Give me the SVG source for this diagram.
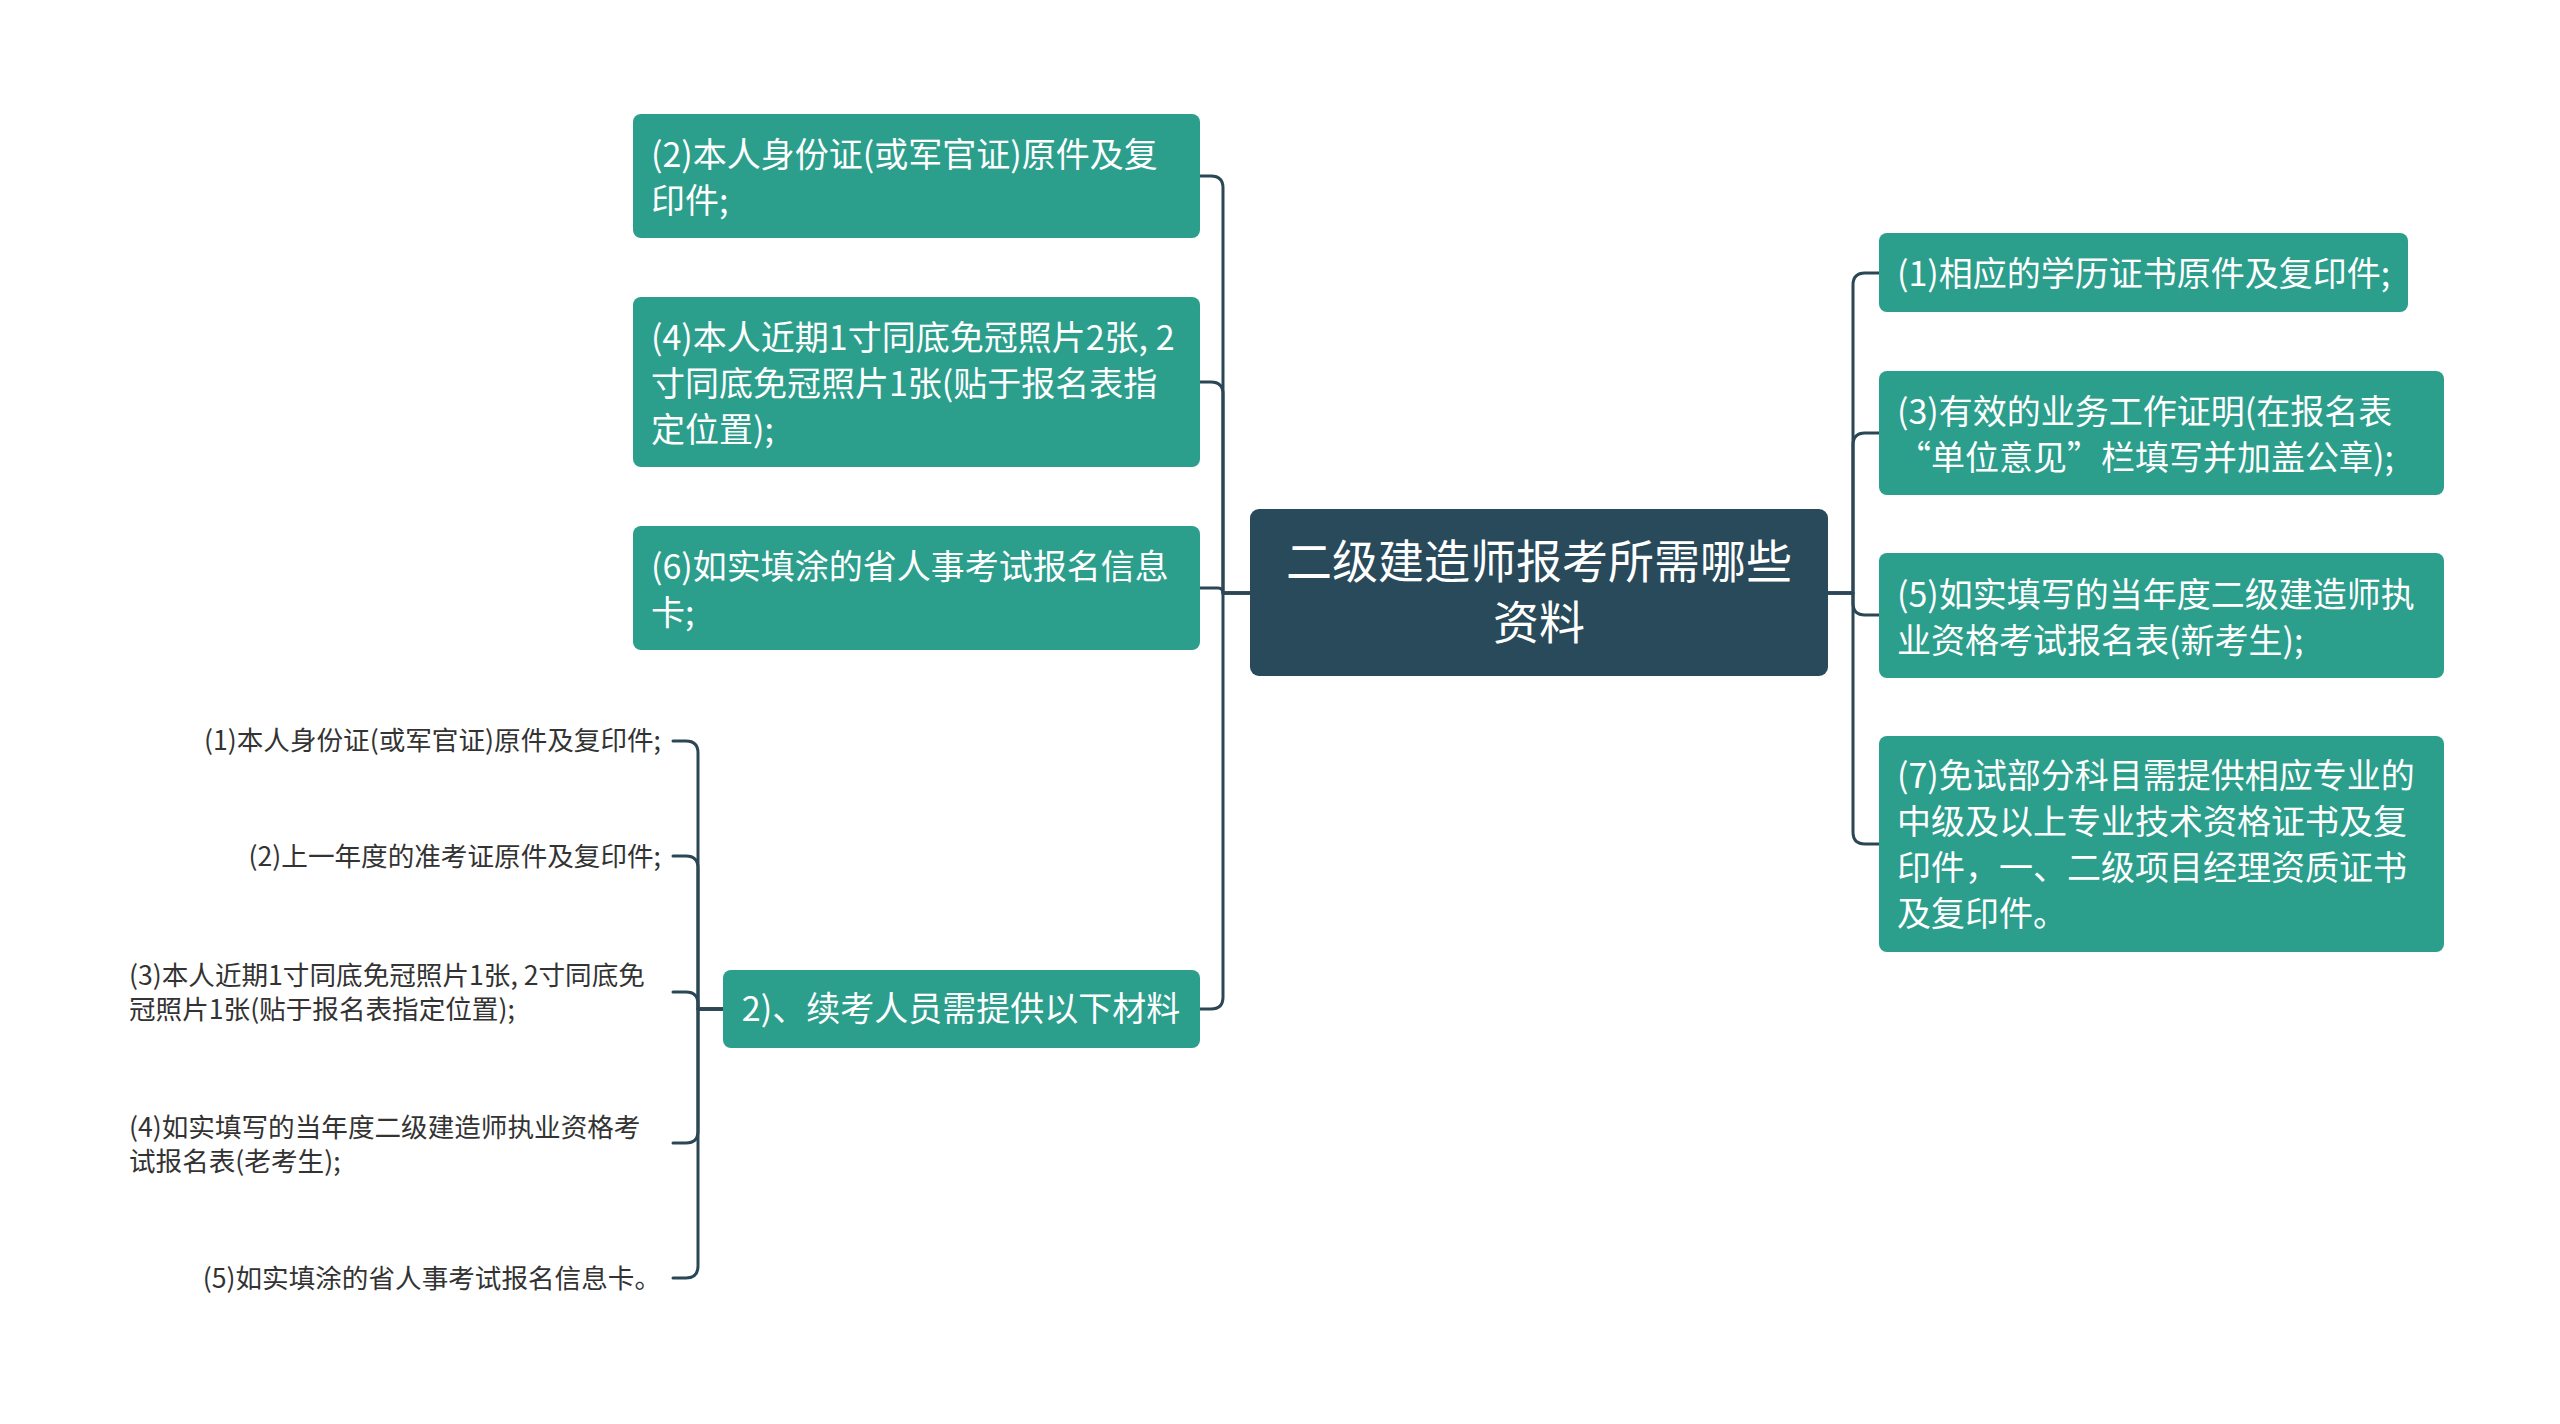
<svg xmlns="http://www.w3.org/2000/svg" width="2560" height="1424" viewBox="0 0 2560 1424">
<style>
.box{fill:#2c9e8c}
.root{fill:#284a5a}
.t{font-family:"Noto Sans CJK SC","Noto Sans",sans-serif;font-size:34px;fill:#ffffff}
.rt{font-family:"Noto Sans CJK SC","Noto Sans",sans-serif;font-size:46px;fill:#ffffff;text-anchor:middle}
.lf{font-family:"Noto Sans CJK SC","Noto Sans",sans-serif;font-size:26.6px;fill:#333333}
.c{fill:none;stroke:#2b4755;stroke-width:3;stroke-linecap:round;stroke-linejoin:round}
</style>
<rect width="2560" height="1424" fill="#ffffff"/>
<g id="connectors">
<path class="c" d="M1250 593 H1223 V188 Q1223 176 1211 176 H1200"/>
<path class="c" d="M1250 593 H1223 V394 Q1223 382 1211 382 H1200"/>
<path class="c" d="M1250 593 H1223 Q1223 588 1218 588 H1200"/>
<path class="c" d="M1250 593 H1223 V997 Q1223 1009 1211 1009 H1200"/>
<path class="c" d="M1828 593 H1853 V285 Q1853 273 1865 273 H1879"/>
<path class="c" d="M1828 593 H1853 V445 Q1853 433 1865 433 H1879"/>
<path class="c" d="M1828 593 H1853 V603 Q1853 615 1865 615 H1879"/>
<path class="c" d="M1828 593 H1853 V832 Q1853 844 1865 844 H1879"/>
<path class="c" d="M723 1009 H698 V753 Q698 741 686 741 H673"/>
<path class="c" d="M723 1009 H698 V868 Q698 856 686 856 H673"/>
<path class="c" d="M723 1009 H698 V1004 Q698 992 686 992 H673"/>
<path class="c" d="M723 1009 H698 V1131 Q698 1143 686 1143 H673"/>
<path class="c" d="M723 1009 H698 V1266 Q698 1278 686 1278 H673"/>
</g>
<g id="root">
<rect class="root" x="1250" y="509" width="578" height="167" rx="9"/>
<text class="rt" x="1539" y="578">二级建造师报考所需哪些</text>
<text class="rt" x="1539" y="639">资料</text>
</g>
<g id="n-left-2">
<rect class="box" x="633" y="114" width="567" height="124" rx="8"/>
<text class="t" x="651" y="167">(2)本人身份证(或军官证)原件及复</text>
<text class="t" x="651" y="213">印件;</text>
</g>
<g id="n-left-4">
<rect class="box" x="633" y="297" width="567" height="170" rx="8"/>
<text class="t" x="651" y="350">(4)本人近期1寸同底免冠照片2张, 2</text>
<text class="t" x="651" y="396">寸同底免冠照片1张(贴于报名表指</text>
<text class="t" x="651" y="442">定位置);</text>
</g>
<g id="n-left-6">
<rect class="box" x="633" y="526" width="567" height="124" rx="8"/>
<text class="t" x="651" y="579">(6)如实填涂的省人事考试报名信息</text>
<text class="t" x="651" y="625">卡;</text>
</g>
<g id="n-left-continue">
<rect class="box" x="723" y="970" width="477" height="78" rx="8"/>
<text class="t" x="961" y="1021" text-anchor="middle">2)、续考人员需提供以下材料</text>
</g>
<g id="leaf-1">
<text class="lf" x="661" y="750" text-anchor="end">(1)本人身份证(或军官证)原件及复印件;</text>
</g>
<g id="leaf-2">
<text class="lf" x="661" y="866" text-anchor="end">(2)上一年度的准考证原件及复印件;</text>
</g>
<g id="leaf-3">
<text class="lf" x="129" y="985">(3)本人近期1寸同底免冠照片1张, 2寸同底免</text>
<text class="lf" x="129" y="1019">冠照片1张(贴于报名表指定位置);</text>
</g>
<g id="leaf-4">
<text class="lf" x="129" y="1137">(4)如实填写的当年度二级建造师执业资格考</text>
<text class="lf" x="129" y="1171">试报名表(老考生);</text>
</g>
<g id="leaf-5">
<text class="lf" x="661" y="1288" text-anchor="end">(5)如实填涂的省人事考试报名信息卡。</text>
</g>
<g id="n-right-1">
<rect class="box" x="1879" y="233" width="529" height="79" rx="8"/>
<text class="t" x="1897" y="286">(1)相应的学历证书原件及复印件;</text>
</g>
<g id="n-right-3">
<rect class="box" x="1879" y="371" width="565" height="124" rx="8"/>
<text class="t" x="1897" y="424">(3)有效的业务工作证明(在报名表</text>
<text class="t" x="1897" y="470">“单位意见”栏填写并加盖公章);</text>
</g>
<g id="n-right-5">
<rect class="box" x="1879" y="553" width="565" height="125" rx="8"/>
<text class="t" x="1897" y="607">(5)如实填写的当年度二级建造师执</text>
<text class="t" x="1897" y="653">业资格考试报名表(新考生);</text>
</g>
<g id="n-right-7">
<rect class="box" x="1879" y="736" width="565" height="216" rx="8"/>
<text class="t" x="1897" y="788">(7)免试部分科目需提供相应专业的</text>
<text class="t" x="1897" y="834">中级及以上专业技术资格证书及复</text>
<text class="t" x="1897" y="880">印件，一、二级项目经理资质证书</text>
<text class="t" x="1897" y="926">及复印件。</text>
</g>
</svg>
